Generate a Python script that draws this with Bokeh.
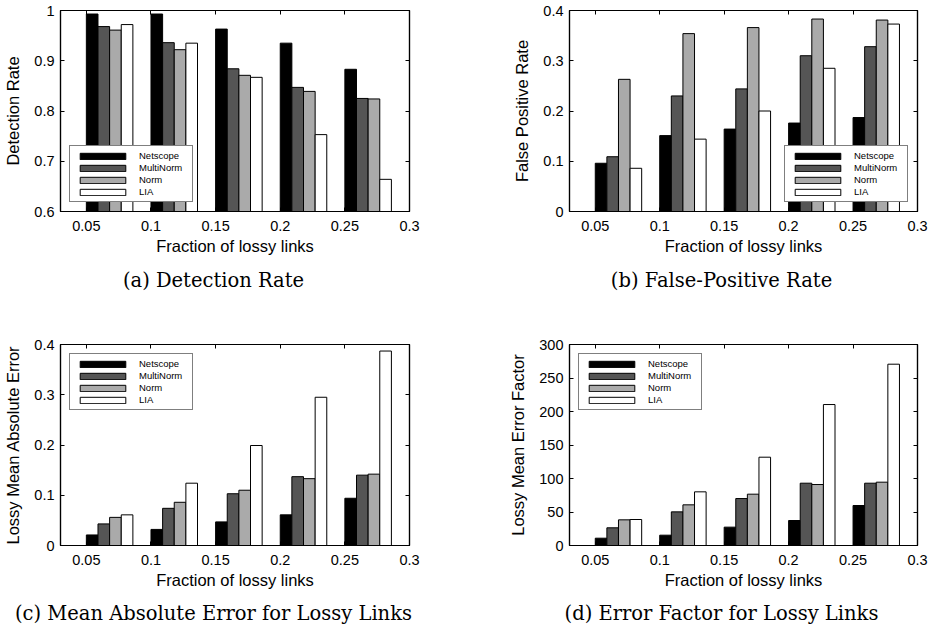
from bokeh.plotting import figure
from bokeh.layouts import column, row
from bokeh.models import LinearAxis, FixedTicker, CustomJSTickFormatter, Range1d
from bokeh.core.properties import value
from bokeh.embed import file_html
from bokeh.resources import INLINE

# ---------------- data ----------------
fractions = [0.05, 0.1, 0.15, 0.2, 0.25]
methods = ["Netscope", "MultiNorm", "Norm", "LIA"]
x_ticks = [0.05, 0.1, 0.15, 0.2, 0.25, 0.3]

det_netscope = [0.993, 0.993, 0.963, 0.935, 0.883]
det_multinorm = [0.968, 0.936, 0.884, 0.847, 0.825]
det_norm = [0.961, 0.922, 0.871, 0.839, 0.824]
det_lia = [0.972, 0.935, 0.867, 0.753, 0.664]

fpr_netscope = [0.096, 0.151, 0.164, 0.176, 0.187]
fpr_multinorm = [0.109, 0.230, 0.244, 0.310, 0.328]
fpr_norm = [0.263, 0.354, 0.366, 0.383, 0.381]
fpr_lia = [0.086, 0.144, 0.200, 0.285, 0.373]

mae_netscope = [0.021, 0.032, 0.047, 0.061, 0.094]
mae_multinorm = [0.043, 0.074, 0.103, 0.137, 0.140]
mae_norm = [0.056, 0.086, 0.110, 0.133, 0.142]
mae_lia = [0.061, 0.124, 0.199, 0.295, 0.387]

ef_netscope = [10.9, 15.4, 27.4, 37.3, 59.7]
ef_multinorm = [26.4, 50.2, 70.1, 93.0, 93.0]
ef_norm = [38.3, 60.7, 76.6, 91.0, 94.5]
ef_lia = [38.8, 80.1, 131.8, 210.4, 270.6]

det_ticks = [0.6, 0.7, 0.8, 0.9, 1.0]
fpr_ticks = [0, 0.1, 0.2, 0.3, 0.4]
mae_ticks = [0, 0.1, 0.2, 0.3, 0.4]
ef_ticks = [0, 50, 100, 150, 200, 250, 300]

captions = ["(a) Detection Rate", "(b) False-Positive Rate",
            "(c) Mean Absolute Error for Lossy Links", "(d) Error Factor for Lossy Links"]

# ---------------- style ----------------
colors = ["#000000", "#555555", "#aaaaaa", "#ffffff"]
BAR_W = 0.009
X0, X1 = 0.03, 0.3
SANS = "Liberation Sans"
SERIF = "DejaVu Serif"


def fmt():
    return CustomJSTickFormatter(code="return String(parseFloat(tick.toFixed(4)));")


def blank_fmt():
    return CustomJSTickFormatter(code="return '';")


def style_axis(ax, ticks, labels=True):
    ax.ticker = FixedTicker(ticks=ticks)
    ax.major_tick_in = 4
    ax.major_tick_out = 0
    ax.minor_tick_in = 0
    ax.minor_tick_out = 0
    ax.major_tick_line_color = "black"
    ax.major_tick_line_width = 1
    ax.axis_line_color = "black"
    ax.axis_line_width = 1.2
    if labels:
        ax.formatter = fmt()
        ax.major_label_text_font = SANS
        ax.major_label_text_font_size = "14.5px"
        ax.major_label_text_color = "black"
        ax.axis_label_text_font = SANS
        ax.axis_label_text_font_size = "16.5px"
        ax.axis_label_text_font_style = "normal"
        ax.axis_label_text_color = "black"
    else:
        ax.formatter = blank_fmt()
        ax.major_label_text_font_size = "1px"
        ax.major_label_standoff = 0


def make_panel(series, yr, yticks, ylabel, legend_loc, width, height, borders):
    left, right, top, bottom = borders
    p = figure(width=width, height=height, output_backend="svg", toolbar_location=None,
               x_range=Range1d(X0, X1), y_range=Range1d(*yr),
               min_border_left=left, min_border_right=right,
               min_border_top=top, min_border_bottom=bottom,
               background_fill_color="white", border_fill_color="white")
    p.grid.visible = False
    p.outline_line_color = "black"
    p.outline_line_width = 1.2

    for i, (name, vals) in enumerate(zip(methods, series)):
        xs = [f + BAR_W * (i + 0.5) for f in fractions]
        p.vbar(x=xs, top=vals, bottom=0, width=BAR_W, fill_color=colors[i],
               line_color="black", line_width=1, legend_label=name)

    style_axis(p.xaxis[0], x_ticks)
    p.xaxis[0].axis_label = "Fraction of lossy links"
    p.xaxis[0].major_label_standoff = 9
    p.xaxis[0].axis_label_standoff = 3
    style_axis(p.yaxis[0], yticks)
    p.yaxis[0].axis_label = ylabel
    p.yaxis[0].major_label_standoff = 6
    p.yaxis[0].axis_label_standoff = 9

    top_ax = LinearAxis()
    style_axis(top_ax, x_ticks, labels=False)
    p.add_layout(top_ax, "above")
    right_ax = LinearAxis()
    style_axis(right_ax, yticks, labels=False)
    p.add_layout(right_ax, "right")

    lg = p.legend[0]
    lg.location = legend_loc
    lg.margin = 9
    lg.padding = 4
    lg.spacing = 1
    lg.glyph_width = 57
    lg.glyph_height = 8
    lg.label_height = 10
    lg.label_width = 49
    lg.label_standoff = 8
    lg.label_text_font = SANS
    lg.label_text_font_size = "9.5px"
    lg.label_text_color = "black"
    lg.border_line_color = "black"
    lg.border_line_width = 1.5
    lg.background_fill_alpha = 1
    return p


def make_caption(text, width, height, cx, cy):
    """A borderless strip holding one sub-figure caption (cx, cy in pixels)."""
    c = figure(width=width, height=height, output_backend="svg", toolbar_location=None,
               x_range=Range1d(0, width), y_range=Range1d(0, height),
               x_axis_location=None, y_axis_location=None,
               min_border=0, min_border_left=0, min_border_right=0,
               min_border_top=0, min_border_bottom=0,
               background_fill_color="white", border_fill_color="white")
    c.grid.visible = False
    c.outline_line_color = None
    c.text(x=[cx], y=[cy], text=[text], text_font=value(SERIF),
           text_font_size="19.5px", text_align="center", text_baseline="middle",
           text_color="black")
    return c


TOP_H, TOP_CAP_H = 261, 49
BOT_H, BOT_CAP_H = 285, 33

pa = make_panel([det_netscope, det_multinorm, det_norm, det_lia], (0.6, 1.0), det_ticks,
                "Detection Rate", "bottom_left", 464, TOP_H, (60, 55, 10, 50))
pb = make_panel([fpr_netscope, fpr_multinorm, fpr_norm, fpr_lia], (0, 0.4), fpr_ticks,
                "False Positive Rate", "bottom_right", 464, TOP_H, (105, 11, 10, 50))
pc = make_panel([mae_netscope, mae_multinorm, mae_norm, mae_lia], (0, 0.4), mae_ticks,
                "Lossy Mean Absolute Error", "top_left", 464, BOT_H, (60, 55, 34, 50))
pd = make_panel([ef_netscope, ef_multinorm, ef_norm, ef_lia], (0, 300), ef_ticks,
                "Lossy Mean Error Factor", "top_left", 464, BOT_H, (105, 11, 34, 50))

ca = make_caption(captions[0], 464, TOP_CAP_H, 213, TOP_CAP_H - 19)
cb = make_caption(captions[1], 464, TOP_CAP_H, 257, TOP_CAP_H - 19)
cc = make_caption(captions[2], 464, BOT_CAP_H, 213, BOT_CAP_H - 18.3)
cd = make_caption(captions[3], 464, BOT_CAP_H, 257, BOT_CAP_H - 18.3)

layout = column(row(pa, pb), row(ca, cb), row(pc, pd), row(cc, cd))
open("out.html", "w").write(file_html(layout, INLINE))
